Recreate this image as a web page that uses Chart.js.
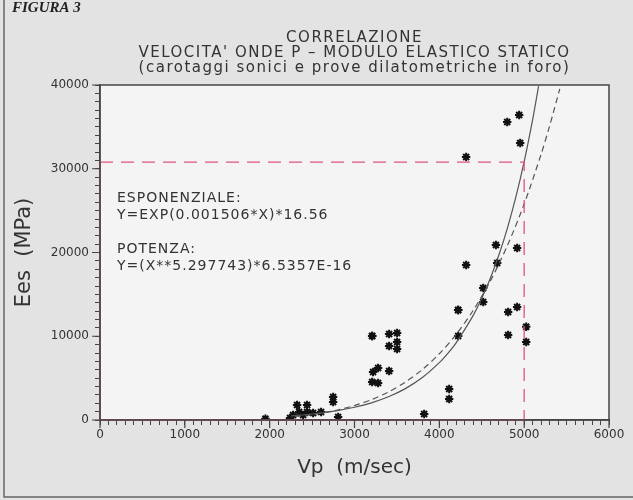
<!DOCTYPE html>
<html>
<head>
<meta charset="utf-8">
<script src="https://cdn.jsdelivr.net/npm/chart.js@4.4.1/dist/chart.umd.min.js"></script>
<style>
  html, body { margin: 0; padding: 0; background: #e3e3e3; }
  #wrap { width: 633px; height: 500px; }
</style>
</head>
<body>
<div id="wrap"><canvas id="corrChart" width="633" height="500"></canvas></div>
<script>
const vpValues = [
    1950, 2240, 2276, 2323, 2347, 2394, 2441, 2441, 2512, 2606, 2748, 2748, 2807,
    3208, 3219, 3278, 3208, 3278, 3408, 3208, 3408, 3502, 3502, 3408, 3502,
    3821, 4116, 4116, 4222, 4222, 4222, 4316, 4316, 4517, 4517, 4682, 4667,
    4811, 4811, 4917, 4917, 5024, 5024, 4800, 4941, 4953
];
const eesValues = [
    150, 240, 600, 1790, 960, 600, 1790, 960, 840, 960, 2750, 2150, 360,
    4540, 5730, 6210, 10030, 4420, 5850, 10030, 10270, 10390, 9310, 8840, 8480,
    720, 3700, 2510, 10030, 13130, 13130, 18510, 31400, 15760, 14090, 18750, 20900,
    12900, 10150, 13490, 20540, 11140, 9310, 35580, 36420, 33070
];

// Regression curves
const expVp = [2250, 2500, 2800, 3000, 3200, 3400, 3600, 3800, 4000, 4100, 4200, 4400, 4500, 4600, 4700, 4800, 4900, 5000, 5100, 5170];
const expEes = [480, 715, 1123, 1518, 2051, 2772, 3747, 5063, 6843, 7956, 9248, 12498, 14531, 16892, 19637, 22829, 26540, 30853, 35868, 39855];
const powVp = [2300, 2500, 2800, 3000, 3200, 3400, 3600, 3800, 4000, 4200, 4400, 4600, 4800, 5000, 5200, 5300, 5420];
const powEes = [422, 656, 1195, 1723, 2425, 3343, 4525, 6027, 7908, 10241, 13102, 16581, 20775, 25789, 31747, 35115, 39538];

// Reference lines at Vp = 5000, Ees ~ 30800
const markVp = 5000;
const markEes = 30800;

const titleLines = [
    "CORRELAZIONE",
    "VELOCITA' ONDE P – MODULO ELASTICO STATICO",
    "(carotaggi sonici e prove dilatometriche in foro)"
];
const noteLines = [
    {text: "ESPONENZIALE:", vp: 200, ees: 26510},
    {text: "Y=EXP(0.001506*X)*16.56", vp: 200, ees: 24480},
    {text: "POTENZA:", vp: 200, ees: 20420},
    {text: "Y=(X**5.297743)*6.5357E-16", vp: 200, ees: 18390}
];

const FONT = "'DejaVu Sans', sans-serif";

function toPoints(xs, ys) {
    return xs.map((x, i) => ({x: x, y: ys[i]}));
}

// background, frame, title and free text
const paperPlugin = {
    id: "paper",
    beforeDraw(chart) {
        const {ctx, chartArea: a} = chart;
        ctx.save();
        ctx.fillStyle = "#e3e3e3";
        ctx.fillRect(0, 0, chart.width, chart.height);
        ctx.fillStyle = "#f4f4f4";
        ctx.fillRect(a.left, a.top, a.right - a.left, a.bottom - a.top);
        ctx.restore();
    },
    afterDraw(chart) {
        const {ctx, chartArea: a, scales} = chart;
        ctx.save();
        ctx.strokeStyle = "#444";
        ctx.lineWidth = 1.5;
        ctx.strokeRect(a.left, a.top, a.right - a.left, a.bottom - a.top);

        // major ticks a bit longer
        ctx.lineWidth = 1.2;
        ctx.beginPath();
        for (let v = 0; v <= 6000; v += 1000) {
            const px = scales.x.getPixelForValue(v);
            ctx.moveTo(px, a.bottom);
            ctx.lineTo(px, a.bottom + 8);
        }
        for (let v = 0; v <= 40000; v += 10000) {
            const py = scales.y.getPixelForValue(v);
            ctx.moveTo(a.left, py);
            ctx.lineTo(a.left - 8, py);
        }
        ctx.stroke();

        // scanned page border
        ctx.strokeStyle = "#666";
        ctx.lineWidth = 1.5;
        ctx.beginPath();
        ctx.moveTo(4, 0);
        ctx.lineTo(4, chart.height - 3);
        ctx.lineTo(chart.width, chart.height - 3);
        ctx.stroke();

        ctx.fillStyle = "#222";
        ctx.font = "italic bold 15px 'Liberation Serif', serif";
        ctx.textBaseline = "alphabetic";
        ctx.fillText("FIGURA 3", 12, 12);

        // title
        ctx.fillStyle = "#333";
        ctx.font = "15px " + FONT;
        ctx.letterSpacing = "1.5px";
        ctx.textAlign = "center";
        ctx.textBaseline = "middle";
        const cx = (a.left + a.right) / 2;
        titleLines.forEach((t, i) => ctx.fillText(t, cx, 38 + i * 15));

        ctx.textAlign = "left";
        ctx.font = "14px " + FONT;
        ctx.letterSpacing = "1px";
        noteLines.forEach(n => {
            ctx.fillText(n.text, scales.x.getPixelForValue(n.vp), scales.y.getPixelForValue(n.ees));
        });
        ctx.restore();
    }
};

const tickStyle = {color: "#333", font: {family: FONT, size: 12}};

new Chart(document.getElementById("corrChart").getContext("2d"), {
    type: "scatter",
    data: {
        datasets: [
            {
                label: "guida",
                data: [{x: 0, y: markEes}, {x: markVp, y: markEes}, {x: markVp, y: 0}],
                showLine: true,
                borderColor: "#e0557a",
                borderWidth: 1.3,
                borderDash: [13, 8],
                pointRadius: 0,
                clip: false,
            },
            {
                label: "assi",
                data: [{x: 0, y: markEes}, {x: 0, y: 0}, {x: markVp, y: 0}],
                showLine: true,
                borderColor: "#e0557a",
                borderWidth: 1.6,
                pointRadius: 0,
                clip: false,
            },
            {
                label: "esponenziale",
                data: toPoints(expVp, expEes),
                showLine: true,
                borderColor: "#555",
                borderWidth: 1.2,
                pointRadius: 0,
                tension: 0.3,
            },
            {
                label: "potenza",
                data: toPoints(powVp, powEes),
                showLine: true,
                borderColor: "#555",
                borderWidth: 1.2,
                borderDash: [6, 4],
                pointRadius: 0,
                tension: 0.3,
            },
            {
                label: "misure",
                data: toPoints(vpValues, eesValues),
                pointStyle: "star",
                pointRadius: 4.2,
                borderColor: "#111",
                borderWidth: 2,
                backgroundColor: "#111",
            },
        ],
    },
    options: {
        responsive: false,
        animation: false,
        layout: {padding: {left: 0, right: 24, top: 85, bottom: 0}},
        plugins: {
            legend: {display: false},
            tooltip: {enabled: false},
        },
        scales: {
            x: {
                type: "linear",
                min: 0,
                max: 6000,
                afterFit: s => { s.height = 80; },
                border: {display: true, color: "#444", width: 1.5},
                grid: {drawOnChartArea: false, tickLength: 5, color: "#444"},
                ticks: {
                    ...tickStyle,
                    stepSize: 100,
                    autoSkip: false,
                    maxRotation: 0,
                    padding: 3,
                    callback: v => (v % 1000 === 0 ? v : ""),
                },
                title: {
                    display: true,
                    text: "Vp  (m/sec)",
                    color: "#333",
                    font: {family: FONT, size: 20},
                    padding: {top: 0, bottom: 20},
                },
            },
            y: {
                type: "linear",
                min: 0,
                max: 40000,
                afterFit: s => { s.width = 100; },
                border: {display: true, color: "#444", width: 1.5},
                grid: {drawOnChartArea: false, tickLength: 5, color: "#444"},
                ticks: {
                    ...tickStyle,
                    stepSize: 1000,
                    autoSkip: false,
                    padding: 6,
                    callback: v => (v % 10000 === 0 ? v : ""),
                },
                title: {
                    display: true,
                    text: "Ees  (MPa)",
                    color: "#333",
                    font: {family: FONT, size: 21},
                    padding: {top: 12, bottom: 0},
                },
            },
        },
    },
    plugins: [paperPlugin],
});
</script>
</body>
</html>
